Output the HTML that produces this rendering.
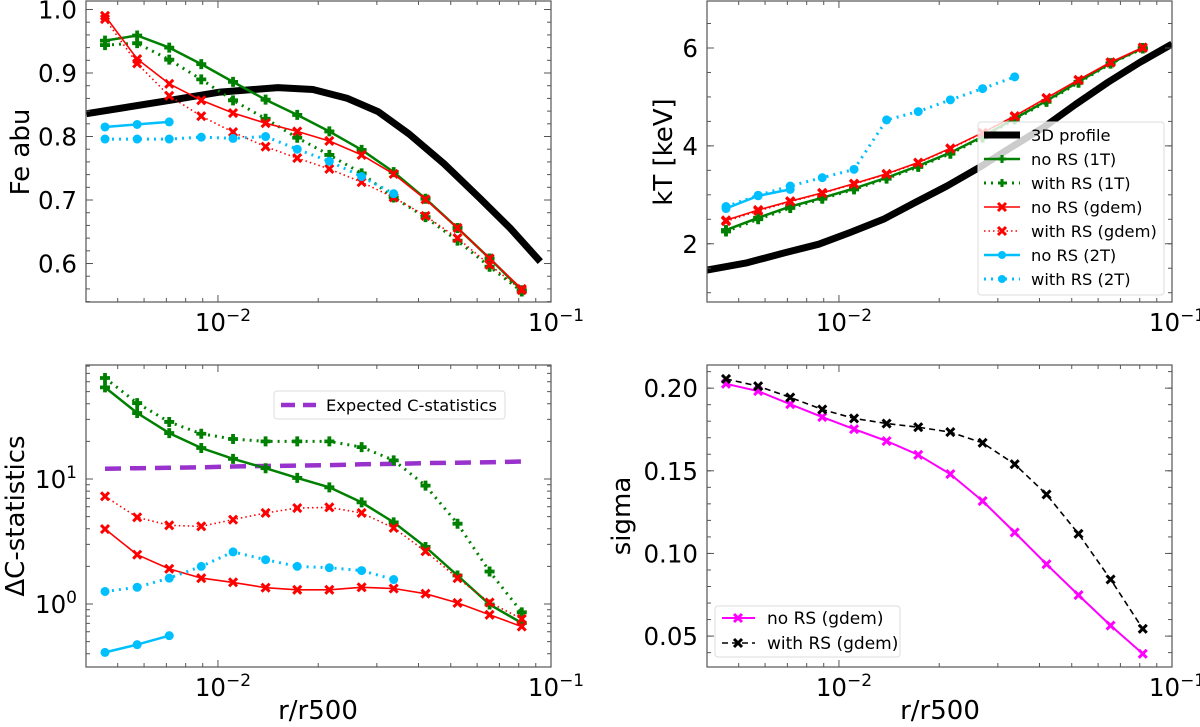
<!DOCTYPE html>
<html><head><meta charset="utf-8">
<style>
html,body{margin:0;padding:0;background:#fff;}
svg{display:block;font-family:"DejaVu Sans","Liberation Sans",sans-serif;}
</style></head>
<body>
<svg id="chart" width="1200" height="727" viewBox="0 0 1200 727" xmlns="http://www.w3.org/2000/svg"></svg>
<script>
// ---- shared radii ----
const radii = [0.00458,0.00572,0.00714,0.00891,0.0111,0.0139,0.0173,0.0216,0.0270,0.0337,0.0420,0.0524,0.0654,0.0817];

// ---- panel A: Fe abundance ----
const feProfileX = [0.00403,0.00718,0.01014,0.01514,0.01928,0.02449,0.03027,0.0375,0.04775,0.06081,0.07534,0.0929];
const feProfileY = [0.836,0.857,0.870,0.877,0.874,0.860,0.839,0.804,0.757,0.704,0.656,0.603];
const feNoRS1T = [0.951,0.959,0.940,0.914,0.886,0.858,0.834,0.808,0.779,0.744,0.702,0.656,0.608,0.558];
const feRS1T = [0.944,0.947,0.921,0.890,0.857,0.828,0.798,0.771,0.742,0.704,0.673,0.636,0.595,0.556];
const feNoRSgdem = [0.990,0.922,0.883,0.857,0.837,0.821,0.808,0.793,0.771,0.741,0.701,0.656,0.608,0.560];
const feRSgdem = [0.985,0.915,0.864,0.832,0.807,0.784,0.766,0.749,0.728,0.704,0.675,0.640,0.598,0.558];
const feNoRS2T = [0.815,0.819,0.823];
const feRS2T = [0.796,0.796,0.796,0.799,0.797,0.800,0.780,0.761,0.737,0.710];
const feTicks = [0.6,0.7,0.8,0.9,1.0];
const feTickLabels = ["0.6","0.7","0.8","0.9","1.0"];

// ---- panel B: temperature ----
const ktProfileX = [0.0040,0.0053,0.0069,0.0087,0.0108,0.0136,0.0169,0.0211,0.0264,0.0329,0.0412,0.0514,0.0643,0.0802,0.1];
const ktProfileY = [1.46,1.61,1.82,1.99,2.23,2.50,2.84,3.18,3.56,3.97,4.38,4.85,5.30,5.71,6.08];
const ktNoRS1T = [2.28,2.53,2.76,2.94,3.13,3.35,3.59,3.86,4.19,4.56,4.92,5.31,5.69,6.00];
const ktRS1T = [2.25,2.50,2.73,2.92,3.11,3.33,3.57,3.84,4.17,4.54,4.90,5.29,5.68,5.99];
const ktNoRSgdem = [2.48,2.69,2.87,3.04,3.23,3.43,3.66,3.95,4.27,4.61,4.98,5.35,5.71,6.01];
const ktRSgdem = [2.46,2.67,2.86,3.03,3.22,3.42,3.65,3.94,4.26,4.60,4.97,5.34,5.70,6.00];
const ktNoRS2T = [2.72,2.98,3.11];
const ktRS2T = [2.76,2.99,3.18,3.35,3.52,4.53,4.70,4.94,5.17,5.41];
const ktTicks = [2,4,6];
const ktTickLabels = ["2","4","6"];

// ---- panel C: delta C-statistics ----
const dcNoRS1T = [54.1,33.7,23.3,17.7,14.5,12.2,10.2,8.58,6.50,4.50,2.86,1.69,0.99,0.705];
const dcRS1T = [64.3,40.5,28.6,23.0,20.9,20.0,20.0,20.0,18.0,14.1,8.85,4.39,1.82,0.858];
const dcNoRSgdem = [3.98,2.48,1.91,1.61,1.49,1.35,1.30,1.30,1.36,1.33,1.21,1.02,0.82,0.66];
const dcRSgdem = [7.27,4.94,4.26,4.18,4.73,5.35,5.86,5.93,5.35,4.06,2.64,1.61,1.03,0.76];
const dcNoRS2T = [0.41,0.473,0.558];
const dcRS2T = [1.26,1.36,1.61,2.0,2.61,2.26,2.0,1.95,1.85,1.57];
const dcExpected = [12.1,12.2,12.3,12.4,12.6,12.7,12.8,12.9,13.1,13.2,13.4,13.5,13.6,13.8];

// ---- panel D: sigma ----
const sgNoRS = [0.2026,0.1982,0.1903,0.1825,0.1752,0.168,0.1597,0.148,0.1317,0.1127,0.0935,0.0748,0.0564,0.0393];
const sgRS = [0.2056,0.2012,0.1944,0.1871,0.1817,0.1786,0.1764,0.1734,0.1669,0.154,0.1357,0.1119,0.0843,0.0544];
const sgTicks = [0.05,0.10,0.15,0.20];
const sgTickLabels = ["0.05","0.10","0.15","0.20"];

const xTickVals = [0.01,0.1];
const xTickBase = ["10","10"];
const xTickExp = ["−2","−1"];

const NS = "http://www.w3.org/2000/svg";
const svg = document.getElementById("chart");
function mk(tag, attrs, parent){
  const e = document.createElementNS(NS, tag);
  for (const k in attrs) e.setAttribute(k, attrs[k]);
  (parent||svg).appendChild(e);
  return e;
}
const GREEN="#008000", RED="#ff0000", CYAN="#00bfff", MAG="#ff00ff", PURP="#9932cc";
const TF=24.5;

function makePanel(name, left, top, w, h, ymin, ymax, ylog){
  const lx0=Math.log10(0.004016), lx1=-1;
  const sx = v => left + (Math.log10(v)-lx0)/(lx1-lx0)*w;
  const sy = ylog ? (v => top + h - (Math.log10(v)-Math.log10(ymin))/(Math.log10(ymax)-Math.log10(ymin))*h)
                  : (v => top + h - (v-ymin)/(ymax-ymin)*h);
  const g = mk("g", {});
  
  
  const clipId = name+"-clip";
  const cp = mk("clipPath",{id:clipId},g);
  mk("rect",{x:left,y:top,width:w,height:h},cp);
  const plot = mk("g",{"clip-path":"url(#"+clipId+")"},g);
  return {g, plot, sx, sy, left, top, w, h};
}

function frame(p, yMajor, yLabels, yMinor, yLogDecades){
  const {g,sx,sy,left,top,w,h}=p;
  const tg = mk("g",{},g);
  
  
  for (const d of [0.001,0.01]) for (let m=2;m<=9;m++){
    const v=m*d; const x=sx(v);
    if (x<left-0.5||x>left+w+0.5) continue;
    mk("line",{x1:x,x2:x,y1:top+h,y2:top+h-4,stroke:"#555","stroke-width":1},tg);
    mk("line",{x1:x,x2:x,y1:top,y2:top+4,stroke:"#555","stroke-width":1},tg);
  }
  xTickVals.forEach((v,i)=>{
    const x=sx(v);
    mk("line",{x1:x,x2:x,y1:top+h,y2:top+h-7,stroke:"#555","stroke-width":1},tg);
    mk("line",{x1:x,x2:x,y1:top,y2:top+7,stroke:"#555","stroke-width":1},tg);
    const t=mk("text",{x:x+5,y:top+h+29,"font-size":TF,"text-anchor":"middle",fill:"#000"},g);
    
    
    t.appendChild(document.createTextNode(xTickBase[i]));
    const s=mk("tspan",{dy:-10,"font-size":17},t); s.textContent=xTickExp[i];
  });
  yMinor.forEach(v=>{
    const y=sy(v); if (y<top||y>top+h) return;
    mk("line",{x1:left,x2:left+4,y1:y,y2:y,stroke:"#555","stroke-width":1},tg);
    mk("line",{x1:left+w,x2:left+w-4,y1:y,y2:y,stroke:"#555","stroke-width":1},tg);
  });
  yMajor.forEach((v,i)=>{
    const y=sy(v);
    mk("line",{x1:left,x2:left+7,y1:y,y2:y,stroke:"#555","stroke-width":1},tg);
    mk("line",{x1:left+w,x2:left+w-7,y1:y,y2:y,stroke:"#555","stroke-width":1},tg);
    const t=mk("text",{x:left-9,y:y+9,"font-size":TF,"text-anchor":"end",fill:"#000"},g);
    
    
    if (yLogDecades){
      t.appendChild(document.createTextNode("10"));
      const s=mk("tspan",{dy:-10,"font-size":17},t); s.textContent=yLabels[i];
    } else t.textContent=yLabels[i];
  });
  const r=mk("rect",{x:left,y:top,width:w,height:h,fill:"none",stroke:"#555","stroke-width":1.2},g);
  
  
}

function drawMarker(parent, kind, x, y, color, size){
  const s=size||5;
  let m;
  if (kind==="circle") m=mk("circle",{cx:x,cy:y,r:s,fill:color},parent);
  else if (kind==="plus"){
    const a=s, b=s*0.38;
    m=mk("path",{d:`M${x-b},${y-a}h${2*b}v${a-b}h${a-b}v${2*b}h${-(a-b)}v${a-b}h${-2*b}v${-(a-b)}h${-(a-b)}v${-2*b}h${a-b}z`,fill:color},parent);
  } else if (kind==="x"){
    const a=s;
    m=mk("path",{d:`M${x-a},${y-a}L${x+a},${y+a}M${x-a},${y+a}L${x+a},${y-a}`,stroke:color,"stroke-width":s*0.75,fill:"none"},parent);
  }
  return m;
}

function series(p, name, xs, ys, color, width, dash, marker, msize){
  const g=mk("g",{},p.plot);
  
  
  const pts=xs.map((x,i)=>p.sx(x).toFixed(1)+","+p.sy(ys[i]).toFixed(1)).join(" ");
  const a={points:pts,fill:"none",stroke:color,"stroke-width":width,"stroke-linejoin":"round"};
  if (dash) a["stroke-dasharray"]=dash;
  mk("polyline",a,g);
  if (marker) xs.forEach((x,i)=>{
    const m=drawMarker(g,marker,p.sx(x),p.sy(ys[i]),color,msize);
    
    
  });
}

function label(txt,x,y,rot,name){
  const t=mk("text",{x:x,y:y,"font-size":26,"text-anchor":"middle",fill:"#000",transform:rot?`rotate(-90 ${x} ${y})`:""});
  
  
  t.textContent=txt;
}

function range(a,b,st){const r=[];for(let v=a;v<=b+1e-9;v+=st)r.push(+v.toFixed(4));return r;}

// ========== Panel A ==========
const pA=makePanel("fe-abundance-panel",86,1,465,301,0.5394,1.0134,false);
series(pA,"fe-3d-profile",feProfileX,feProfileY,"#000",7,null,null);
series(pA,"fe-no-rs-1t",radii,feNoRS1T,GREEN,2.5,null,"plus",5);
series(pA,"fe-with-rs-1t",radii,feRS1T,GREEN,3,"2,5","plus",5);
series(pA,"fe-no-rs-gdem",radii,feNoRSgdem,RED,1.6,null,"x",4);
series(pA,"fe-with-rs-gdem",radii,feRSgdem,RED,1.6,"1.5,3","x",4);
series(pA,"fe-no-rs-2t",radii.slice(0,3),feNoRS2T,CYAN,2.5,null,"circle",4.5);
series(pA,"fe-with-rs-2t",radii.slice(0,10),feRS2T,CYAN,3,"2,5","circle",4.5);
frame(pA,feTicks,feTickLabels,range(0.54,1.0,0.02),false);
label("Fe abu",29,152,true,"y-axis-title-fe");

// ========== Panel B ==========
const pB=makePanel("temperature-panel",707,1,465,301,0.81,6.96,false);
series(pB,"kt-3d-profile",ktProfileX,ktProfileY,"#000",7,null,null);
series(pB,"kt-no-rs-1t",radii,ktNoRS1T,GREEN,2.5,null,"plus",5);
series(pB,"kt-with-rs-1t",radii,ktRS1T,GREEN,3,"2,5","plus",5);
series(pB,"kt-no-rs-gdem",radii,ktNoRSgdem,RED,1.6,null,"x",4);
series(pB,"kt-with-rs-gdem",radii,ktRSgdem,RED,1.6,"1.5,3","x",4);
series(pB,"kt-no-rs-2t",radii.slice(0,3),ktNoRS2T,CYAN,2.5,null,"circle",4.5);
series(pB,"kt-with-rs-2t",radii.slice(0,10),ktRS2T,CYAN,3,"2,5","circle",4.5);
frame(pB,ktTicks,ktTickLabels,range(1,6.5,0.5),false);
label("kT [keV]",672,152,true,"y-axis-title-kt");

(function(){
  const lg=mk("g",{});
  
  
  mk("rect",{x:978,y:122,width:186,height:173,rx:3,fill:"rgba(255,255,255,0.8)",stroke:"#ddd"},lg);
  const names=["3D profile","no RS (1T)","with RS (1T)","no RS (gdem)","with RS (gdem)","no RS (2T)","with RS (2T)"];
  const cols=["#000",GREEN,GREEN,RED,RED,CYAN,CYAN];
  const widths=[7,2.5,3,1.6,1.6,2.5,3];
  const dashes=[null,null,"2,5",null,"1.5,3",null,"2,5"];
  const mks=[null,"plus","plus","x","x","circle","circle"];
  names.forEach((n,i)=>{
    const y=135+i*24;
    const e=mk("g",{},lg);
    
    
    const a={x1:984,x2:1020,y1:y,y2:y,stroke:cols[i],"stroke-width":widths[i]};
    if(dashes[i])a["stroke-dasharray"]=dashes[i];
    mk("line",a,e);
    if(mks[i])drawMarker(e,mks[i],1002,y,cols[i],4);
    const t=mk("text",{x:1031,y:y+6,"font-size":16.3,fill:"#000"},e);
    t.textContent=n;
  });
})();

// ========== Panel C ==========
const pC=makePanel("delta-cstat-panel",86,365,465,302,Math.pow(10,-0.504),Math.pow(10,1.912),true);
series(pC,"dc-expected",radii,dcExpected,PURP,4.5,"16,9",null);
series(pC,"dc-no-rs-1t",radii,dcNoRS1T,GREEN,2.5,null,"plus",5);
series(pC,"dc-with-rs-1t",radii,dcRS1T,GREEN,3,"2,5","plus",5);
series(pC,"dc-no-rs-gdem",radii,dcNoRSgdem,RED,1.6,null,"x",4);
series(pC,"dc-with-rs-gdem",radii,dcRSgdem,RED,1.6,"1.5,3","x",4);
series(pC,"dc-no-rs-2t",radii.slice(0,3),dcNoRS2T,CYAN,2.5,null,"circle",4.5);
series(pC,"dc-with-rs-2t",radii.slice(0,10),dcRS2T,CYAN,3,"2,5","circle",4.5);
(function(){
  const minor=[];for(const d of [0.1,1,10])for(let m=2;m<=9;m++)minor.push(m*d);
  frame(pC,[1,10],["0","1"],minor,true);
})();
label("ΔC-statistics",24,516,true,"y-axis-title-dc");
(function(){
  const lg=mk("g",{});
  
  
  mk("rect",{x:274,y:391,width:231,height:28,rx:3,fill:"rgba(255,255,255,0.8)",stroke:"#ddd"},lg);
  mk("line",{x1:281,x2:316,y1:405,y2:405,stroke:PURP,"stroke-width":4.5,"stroke-dasharray":"14,8"},lg);
  const t=mk("text",{x:326,y:411,"font-size":16.3,fill:"#000"},lg);t.textContent="Expected C-statistics";
})();
label("r/r500",318,719,false,"x-axis-title-left");

// ========== Panel D ==========
const pD=makePanel("sigma-panel",707,365,465,302,0.0313,0.214,false);
series(pD,"sigma-no-rs-gdem",radii,sgNoRS,MAG,2,null,"x",4);
series(pD,"sigma-with-rs-gdem",radii,sgRS,"#000",1.6,"6,4","x",4);
frame(pD,sgTicks,sgTickLabels,range(0.04,0.21,0.01),false);
label("sigma",630,516,true,"y-axis-title-sigma");
(function(){
  const lg=mk("g",{});
  
  
  mk("rect",{x:715,y:606,width:185,height:51,rx:3,fill:"rgba(255,255,255,0.8)",stroke:"#ddd"},lg);
  mk("line",{x1:722,x2:755,y1:618,y2:618,stroke:MAG,"stroke-width":2},lg);
  drawMarker(lg,"x",738,618,MAG,4);
  mk("line",{x1:722,x2:755,y1:643,y2:643,stroke:"#000","stroke-width":1.6,"stroke-dasharray":"6,4"},lg);
  drawMarker(lg,"x",738,643,"#000",4);
  let t=mk("text",{x:767,y:624,"font-size":17,fill:"#000"},lg);t.textContent="no RS (gdem)";
  t=mk("text",{x:767,y:649,"font-size":17,fill:"#000"},lg);t.textContent="with RS (gdem)";
})();
label("r/r500",940,719,false,"x-axis-title-right");
</script>
</body></html>
